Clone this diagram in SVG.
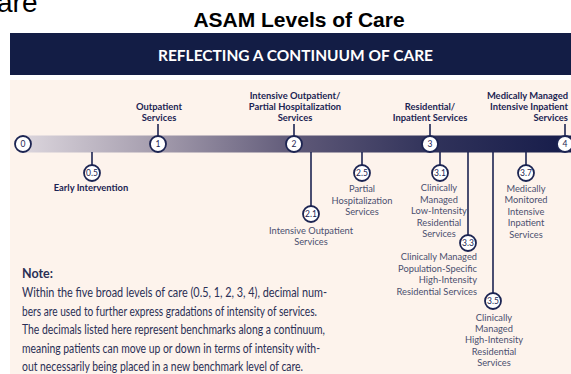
<svg xmlns="http://www.w3.org/2000/svg" width="571" height="374" viewBox="0 0 571 374">
  <defs>
    <linearGradient id="barFill" x1="0" y1="0" x2="1" y2="0">
      <stop offset="0" stop-color="#ddd7de"/>
      <stop offset="0.25" stop-color="#a49cad"/>
      <stop offset="0.5" stop-color="#5f5978"/>
      <stop offset="0.75" stop-color="#30325a"/>
      <stop offset="1" stop-color="#161c4a"/>
    </linearGradient>
    <style>
      .ring { fill: #ffffff; stroke: #1c2452; stroke-width: 1.8; }
      .num { font-family: Lato, "Open Sans", sans-serif; font-size: 8.5px; fill: #1c2452; text-anchor: middle; }
      .head { font-family: Lato, "Open Sans", sans-serif; font-weight: bold; font-size: 9.4px; fill: #1c2452; text-anchor: middle; }
      .sub { font-family: Lato, "Open Sans", sans-serif; font-size: 9.3px; fill: #4b4f6e; text-anchor: middle; }
      .stem { stroke: #1c2452; stroke-width: 1.6; fill: none; }
      .note { font-family: Lato, "Open Sans", sans-serif; font-size: 12.5px; fill: #2a2f55; }
    </style>
  </defs>

  <!-- page -->
  <rect x="0" y="0" width="571" height="374" fill="#ffffff"/>
  <text x="-3" y="12" font-family="Liberation Sans, Arial, sans-serif" font-size="28" fill="#000000">are</text>
  <text x="299" y="27" font-family="Liberation Sans, Arial, sans-serif" font-size="21" font-weight="bold" fill="#000000" text-anchor="middle">ASAM Levels of Care</text>

  <!-- banner and panel -->
  <rect x="10" y="33" width="561" height="42" fill="#131d45"/>
  <text x="295.5" y="61" font-family="Lato, 'Open Sans', sans-serif" font-size="15" font-weight="bold" fill="#ffffff" text-anchor="middle" textLength="275" lengthAdjust="spacingAndGlyphs">REFLECTING A CONTINUUM OF CARE</text>
  <rect x="10" y="80" width="561" height="294" fill="#fdf3ec"/>

  <!-- continuum bar -->
  <rect x="20" y="135.5" width="551" height="17" fill="url(#barFill)"/>

  <!-- connectors: stems from labels and sub-levels to the bar -->
  <g id="connectors">
    <line class="stem" x1="158" y1="124" x2="158" y2="136"/>
    <line class="stem" x1="294" y1="124" x2="294" y2="136"/>
    <line class="stem" x1="430" y1="124" x2="430" y2="136"/>
    <line class="stem" x1="565" y1="124" x2="565" y2="136"/>
    <line class="stem" x1="92" y1="152" x2="92" y2="165"/>
    <line class="stem" x1="311" y1="152" x2="311" y2="206"/>
    <line class="stem" x1="362" y1="152" x2="362" y2="165"/>
    <line class="stem" x1="440" y1="152" x2="440" y2="165"/>
    <line class="stem" x1="468" y1="152" x2="468" y2="235"/>
    <line class="stem" x1="493" y1="152" x2="493" y2="293"/>
    <line class="stem" x1="526" y1="152" x2="526" y2="165"/>
  </g>

  <!-- broad levels -->
  <g id="level-0">
    <circle class="ring" cx="23" cy="144" r="8"/>
    <text class="num" x="23" y="147">0</text>
  </g>
  <g id="level-1">
    <circle class="ring" cx="158" cy="144" r="8"/>
    <text class="num" x="158" y="147">1</text>
    <text class="head" x="159" y="110">Outpatient</text>
    <text class="head" x="159" y="121">Services</text>
  </g>
  <g id="level-2">
    <circle class="ring" cx="294" cy="144" r="8"/>
    <text class="num" x="294" y="147">2</text>
    <text class="head" x="295" y="99">Intensive Outpatient/</text>
    <text class="head" x="295" y="110">Partial Hospitalization</text>
    <text class="head" x="295" y="121">Services</text>
  </g>
  <g id="level-3">
    <circle class="ring" cx="430" cy="144" r="8"/>
    <text class="num" x="430" y="147">3</text>
    <text class="head" x="430" y="110">Residential/</text>
    <text class="head" x="430" y="121">Inpatient Services</text>
  </g>
  <g id="level-4">
    <circle class="ring" cx="565" cy="144" r="8"/>
    <text class="num" x="565" y="147">4</text>
    <text class="head" x="568" y="99" style="text-anchor:end">Medically Managed</text>
    <text class="head" x="568" y="110" style="text-anchor:end">Intensive Inpatient</text>
    <text class="head" x="568" y="121" style="text-anchor:end">Services</text>
  </g>

  <!-- sub-levels -->
  <g id="level-0-5">
    <circle class="ring" cx="92" cy="173" r="8"/>
    <text class="num" x="92" y="176">0.5</text>
    <text class="head" x="91" y="191">Early Intervention</text>
  </g>
  <g id="level-2-1">
    <circle class="ring" cx="311" cy="214" r="8"/>
    <text class="num" x="311" y="217">2.1</text>
    <text class="sub" x="311" y="234">Intensive Outpatient</text>
    <text class="sub" x="311" y="245">Services</text>
  </g>
  <g id="level-2-5">
    <circle class="ring" cx="362" cy="173" r="8"/>
    <text class="num" x="362" y="176">2.5</text>
    <text class="sub" x="362" y="192">Partial</text>
    <text class="sub" x="362" y="204">Hospitalization</text>
    <text class="sub" x="362" y="215">Services</text>
  </g>
  <g id="level-3-1">
    <circle class="ring" cx="440" cy="173" r="8"/>
    <text class="num" x="440" y="176">3.1</text>
    <text class="sub" x="439" y="191">Clinically</text>
    <text class="sub" x="439" y="203">Managed</text>
    <text class="sub" x="439" y="214">Low-Intensity</text>
    <text class="sub" x="439" y="226">Residential</text>
    <text class="sub" x="439" y="237">Services</text>
  </g>
  <g id="level-3-3">
    <circle class="ring" cx="468" cy="243" r="8"/>
    <text class="num" x="468" y="246">3.3</text>
    <text class="sub" x="477" y="260" style="text-anchor:end">Clinically Managed</text>
    <text class="sub" x="477" y="272" style="text-anchor:end">Population-Specific</text>
    <text class="sub" x="477" y="283" style="text-anchor:end">High-Intensity</text>
    <text class="sub" x="477" y="295" style="text-anchor:end">Residential Services</text>
  </g>
  <g id="level-3-5">
    <circle class="ring" cx="493" cy="301" r="8"/>
    <text class="num" x="493" y="304">3.5</text>
    <text class="sub" x="494" y="321">Clinically</text>
    <text class="sub" x="494" y="332">Managed</text>
    <text class="sub" x="494" y="343">High-Intensity</text>
    <text class="sub" x="494" y="355">Residential</text>
    <text class="sub" x="494" y="366">Services</text>
  </g>
  <g id="level-3-7">
    <circle class="ring" cx="526" cy="173" r="8"/>
    <text class="num" x="526" y="176">3.7</text>
    <text class="sub" x="526" y="192">Medically</text>
    <text class="sub" x="526" y="203">Monitored</text>
    <text class="sub" x="526" y="215">Intensive</text>
    <text class="sub" x="526" y="226">Inpatient</text>
    <text class="sub" x="526" y="238">Services</text>
  </g>

  <!-- note -->
  <g id="note">
    <text class="note" x="22" y="278" font-weight="bold" fill="#1c2452">Note:</text>
    <text class="note" x="22" y="297" textLength="305" lengthAdjust="spacingAndGlyphs">Within the five broad levels of care (0.5, 1, 2, 3, 4), decimal num-</text>
    <text class="note" x="22" y="316" textLength="295" lengthAdjust="spacingAndGlyphs">bers are used to further express gradations of intensity of services.</text>
    <text class="note" x="22" y="334" textLength="303" lengthAdjust="spacingAndGlyphs">The decimals listed here represent benchmarks along a continuum,</text>
    <text class="note" x="22" y="353" textLength="298" lengthAdjust="spacingAndGlyphs">meaning patients can move up or down in terms of intensity with-</text>
    <text class="note" x="22" y="371" textLength="281" lengthAdjust="spacingAndGlyphs">out necessarily being placed in a new benchmark level of care.</text>
  </g>
</svg>
